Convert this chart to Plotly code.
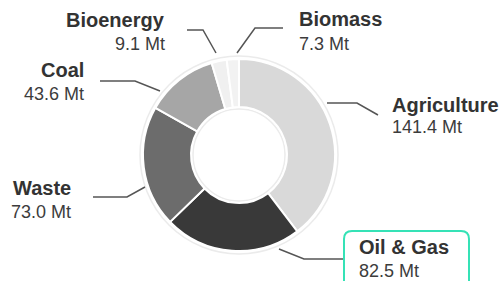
import plotly.graph_objects as go

# ---- data ----
categories = ["Agriculture", "Oil & Gas", "Waste", "Coal", "Bioenergy", "Biomass"]
values = [141.4, 82.5, 73.0, 43.6, 9.1, 7.3]
unit = "Mt"

# ---- styles / layout (pixels) ----
W, H = 504, 281
colors = ["#d9d9d9", "#393939", "#6c6c6c", "#a6a6a6", "#f0f0f0", "#f2f2f2"]
CX, CY, R = 239, 155, 96

# label layout: side, text anchor x, name baseline, value baseline, leader polyline
label_layout = {
    "Agriculture": ("right", 391, 112, 133, [(327, 103), (357, 103), (378, 115)]),
    "Oil & Gas":   ("right", 358, 254, 277, [(279, 249), (304, 259), (343, 259)]),
    "Waste":       ("left", 72, 195, 218, [(93, 197), (127, 197), (145, 187)]),
    "Coal":        ("left", 85, 77, 100, [(100, 81), (135, 81), (160, 91)]),
    "Bioenergy":   ("left", 166, 27, 50, [(187, 30), (203, 30), (216, 53)]),
    "Biomass":     ("right", 298, 26, 50, [(283, 28), (255, 28), (237, 53)]),
}
NAME_SIZE, VALUE_SIZE = 20, 18
FONT = "Liberation Sans, Arial, sans-serif"


def px(x):
    return x / W


def py(y):
    return 1 - y / H


fig = go.Figure()
fig.add_trace(go.Pie(
    labels=categories, values=values, sort=False, direction="clockwise",
    rotation=0, hole=0.5, textinfo="none", hoverinfo="label+value",
    marker=dict(colors=colors, line=dict(color="white", width=2)),
    domain=dict(x=[px(CX - R), px(CX + R)], y=[py(CY + R), py(CY - R)]),
    showlegend=False,
))

shapes = []
# faint rings around donut
for rr in (R + 3, 46):
    shapes.append(dict(type="circle", xref="paper", yref="paper",
                       x0=px(CX - rr), x1=px(CX + rr), y0=py(CY + rr), y1=py(CY - rr),
                       line=dict(color="#ebebeb", width=1.5), layer="below"))

# highlight box (rounded rect)
bx0, bx1, by0, by1, rc = 344, 469, 231, 300, 8
path = (f"M {px(bx0 + rc)} {py(by0)} L {px(bx1 - rc)} {py(by0)} "
        f"Q {px(bx1)} {py(by0)} {px(bx1)} {py(by0 + rc)} L {px(bx1)} {py(by1)} "
        f"L {px(bx0)} {py(by1)} L {px(bx0)} {py(by0 + rc)} "
        f"Q {px(bx0)} {py(by0)} {px(bx0 + rc)} {py(by0)} Z")
shapes.append(dict(type="path", xref="paper", yref="paper", path=path,
                   line=dict(color="#35e2b6", width=2), fillcolor="white"))

annotations = []
for name, val in zip(categories, values):
    side, tx, nb, vb, pts = label_layout[name]
    d = "M " + " L ".join(f"{px(x)} {py(y)}" for x, y in pts)
    shapes.append(dict(type="path", xref="paper", yref="paper", path=d,
                       line=dict(color="#555555", width=1.5)))
    xa = "left" if side == "right" else "right"
    annotations.append(dict(xref="paper", yref="paper", x=px(tx), y=py(nb - 7),
                            text=f"<b>{name}</b>", showarrow=False, xanchor=xa,
                            yanchor="middle", borderpad=0,
                            font=dict(family=FONT, size=NAME_SIZE, color="#333333")))
    annotations.append(dict(xref="paper", yref="paper", x=px(tx), y=py(vb - 6),
                            text=f"{val:.1f} {unit}", showarrow=False, xanchor=xa,
                            yanchor="middle", borderpad=0,
                            font=dict(family=FONT, size=VALUE_SIZE, color="#3c3c3c")))

fig.update_layout(width=W, height=H, margin=dict(l=0, r=0, t=0, b=0),
                  paper_bgcolor="white", plot_bgcolor="white",
                  shapes=shapes, annotations=annotations)
fig.write_html("out.html", config={"displayModeBar": False},
               post_script="document.body.style.margin='0';document.body.style.overflow='hidden';")
